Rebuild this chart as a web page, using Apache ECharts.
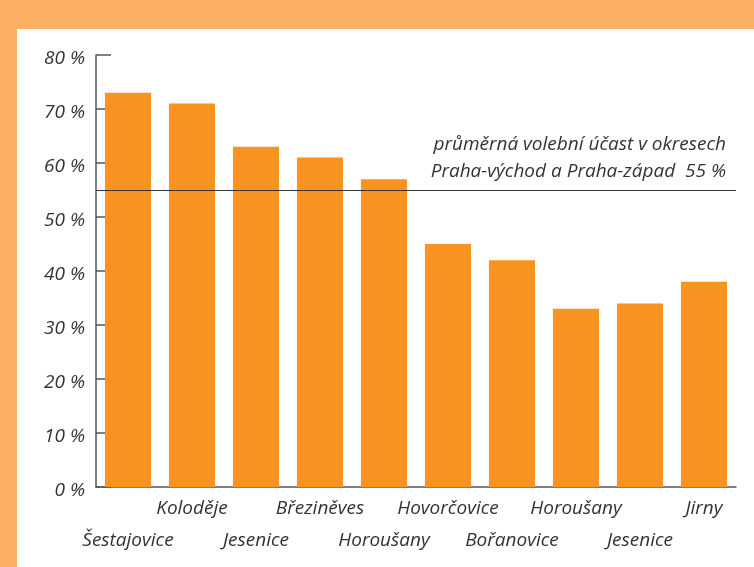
<!DOCTYPE html>
<html><head><meta charset="utf-8">
<script src="https://cdn.jsdelivr.net/npm/echarts@6/dist/echarts.min.js"></script>
<style>html,body{margin:0;padding:0;background:#FCB064}#c{width:754px;height:567px}</style>
</head><body><div id="c"></div>
<script>
const categories = ['Šestajovice','Koloděje','Jesenice','Březiněves','Horoušany','Hovorčovice','Bořanovice','Horoušany','Jesenice','Jirny'];
const values = [73, 71, 63, 61, 57, 45, 42, 33, 34, 38];
const averageValue = 55;
const averageLabel = ['průměrná volební účast v okresech', 'Praha-východ a Praha-západ  55 %'];
const yTicks = [0, 10, 20, 30, 40, 50, 60, 70, 80];

const FONT = 'Open Sans';
const FS = 19;
const chart = echarts.init(document.getElementById('c'));
chart.setOption({
  backgroundColor: '#FCB064',
  animation: false,
  graphic: [{ type: 'rect', z: -10, shape: { x: 17, y: 29, width: 800, height: 600 }, style: { fill: '#ffffff' } }],
  grid: { left: 96, right: 18, top: 55, bottom: 80 },
  xAxis: {
    type: 'category', data: categories,
    axisLine: { lineStyle: { color: '#555', width: 1.5 } },
    axisTick: { inside: true, length: 16, lineStyle: { color: '#555', width: 1.5 } },
    axisLabel: {
      interval: 0, margin: 6, color: '#333', fontFamily: FONT, fontStyle: 'italic', fontSize: FS, lineHeight: 32,
      formatter: (v, i) => (i % 2 === 0 ? '\n' + v : v)
    }
  },
  yAxis: {
    type: 'value', min: yTicks[0], max: yTicks[yTicks.length - 1], interval: 10,
    splitLine: { show: false },
    axisLine: { show: true, lineStyle: { color: '#555', width: 1.5 } },
    axisTick: { show: true, inside: true, length: 15, lineStyle: { color: '#555', width: 1.5 } },
    axisLabel: { margin: 11, color: '#333', fontFamily: FONT, fontStyle: 'italic', fontSize: FS, verticalAlign: 'top', lineHeight: 8, formatter: v => v + ' %' }
  },
  series: [{
    type: 'bar', data: values, barCategoryGap: '28%',
    itemStyle: { color: '#F7931E' },
    markLine: {
      silent: true, symbol: 'none',
      lineStyle: { color: '#333', width: 1, type: 'solid' },
      data: [{ yAxis: averageValue }],
      label: {
        position: 'insideEndTop', distance: [10, 5],
        formatter: averageLabel.join('\n'),
        color: '#333', fontFamily: FONT, fontStyle: 'italic', fontSize: FS, lineHeight: 27, align: 'right'
      }
    }
  }]
});
</script></body></html>
